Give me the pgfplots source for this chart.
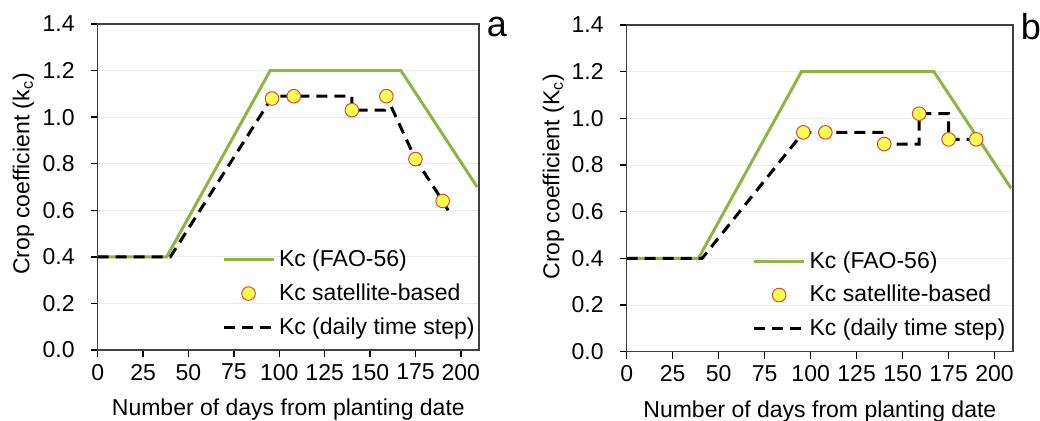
\documentclass[border=0pt]{standalone}
\usepackage{fontspec}
\setmainfont{Liberation Sans}
\usepackage{pgfplots}
\pgfplotsset{compat=1.18}

\definecolor{faogreen}{HTML}{8DB544}
\definecolor{mkfill}{HTML}{FFFF4D}
\definecolor{mkedge}{HTML}{E0453C}
\definecolor{framegray}{HTML}{404040}

\pgfplotsset{
  kcpanel/.style={
    scale only axis, clip=false,
    xmin=0, xmax=210, ymin=0, ymax=1.4,
    xtick={0,25,50,75,100,125,150,175,200},
    ytick={0,0.2,0.4,0.6,0.8,1,1.2,1.4},
    yticklabel style={xshift=-4.5pt, /pgf/number format/.cd, fixed, fixed zerofill, precision=1},
    /pgf/number format/assume math mode=true,
    tick align=outside,
    tick pos=left,
    major tick length=3.5pt,
    axis line style={framegray, line width=0.75pt},
    tick style={black, line width=0.75pt},
    ymajorgrids,
    grid style={black!8, line width=0.4pt},
    ticklabel style={font=\fontsize{11.5}{13}\selectfont},
    label style={font=\fontsize{11.5}{14}\selectfont},
    xlabel={Number of days from planting date},
    xlabel style={at={(axis description cs:0.5,-0.2)}, anchor=base},
    legend cell align=left,
    legend style={draw=none, fill=none, inner xsep=0pt, inner ysep=0pt,
      font=\fontsize{11.5}{14}\selectfont, row sep=3pt,
      at={(axis description cs:0.325,0.32)}, anchor=north west},
  },
  fao/.style={faogreen, line width=1.5pt, no marks,
    legend image code/.code={\draw[##1] (0pt,0pt) -- (25pt,0pt);}},
  sat/.style={only marks, mark=*, mark size=3.4pt,
    mark options={fill=mkfill, draw=mkedge, line width=0.5pt},
    legend image code/.code={\draw[##1] plot coordinates {(12.5pt,0pt)};}},
  daily/.style={black, line width=1.5pt, no marks, dash pattern=on 5.5pt off 3.5pt,
    legend image code/.code={\draw[##1] (0pt,0pt) -- (25pt,0pt);}},
}

\begin{document}
\begin{tikzpicture}
\path[use as bounding box] (0pt,0pt) rectangle (520pt,210pt);

% panel a
\begin{axis}[kcpanel,
  at={(48.85pt,35pt)}, anchor=south west,
  width=190.65pt, height=163pt,
  ylabel={Crop coefficient (k\textsubscript{c})},
  ylabel style={at={(axis description cs:-0.195,0.54)}, anchor=center},
]
\addplot[fao] coordinates {(0,0.4) (38,0.4) (95,1.2) (167,1.2) (209,0.7)};
\addlegendentry{Kc (FAO-56)}
\addplot[sat] coordinates {(96,1.08) (108,1.09) (140,1.03) (159,1.09) (175,0.82) (190,0.64)};
\addlegendentry{Kc satellite-based}
\addplot[daily] coordinates {(0,0.4) (40,0.4) (94,1.06) (96,1.08) (98,1.09) (140,1.09)
  (140,1.03) (158,1.03) (159,1.09) (175,0.82) (190,0.64) (193,0.60)};
\addlegendentry{Kc (daily time step)}
\node[font=\fontsize{18}{20}\selectfont, anchor=base] at (axis description cs:1.047,0.961) {a};
\end{axis}

% panel b
\begin{axis}[kcpanel,
  at={(313.35pt,34.15pt)}, anchor=south west,
  width=193.15pt, height=163.35pt,
  ylabel={Crop coefficient (K\textsubscript{c})},
  ylabel style={at={(axis description cs:-0.19,0.536)}, anchor=center},
]
\addplot[fao] coordinates {(0,0.4) (39,0.4) (95,1.2) (167,1.2) (209,0.7)};
\addlegendentry{Kc (FAO-56)}
\addplot[sat] coordinates {(96,0.94) (108,0.94) (140,0.89) (159,1.02) (175,0.91) (190,0.91)};
\addlegendentry{Kc satellite-based}
\addplot[daily] coordinates {(0,0.4) (41,0.4) (95,0.93) (96,0.94) (140,0.94) (140,0.89)
  (159,0.89) (159,1.02) (175,1.02) (175,0.91) (190,0.91)};
\addlegendentry{Kc (daily time step)}
\node[font=\fontsize{18}{20}\selectfont, anchor=base] at (axis description cs:1.046,0.957) {b};
\end{axis}
\end{tikzpicture}
\end{document}
